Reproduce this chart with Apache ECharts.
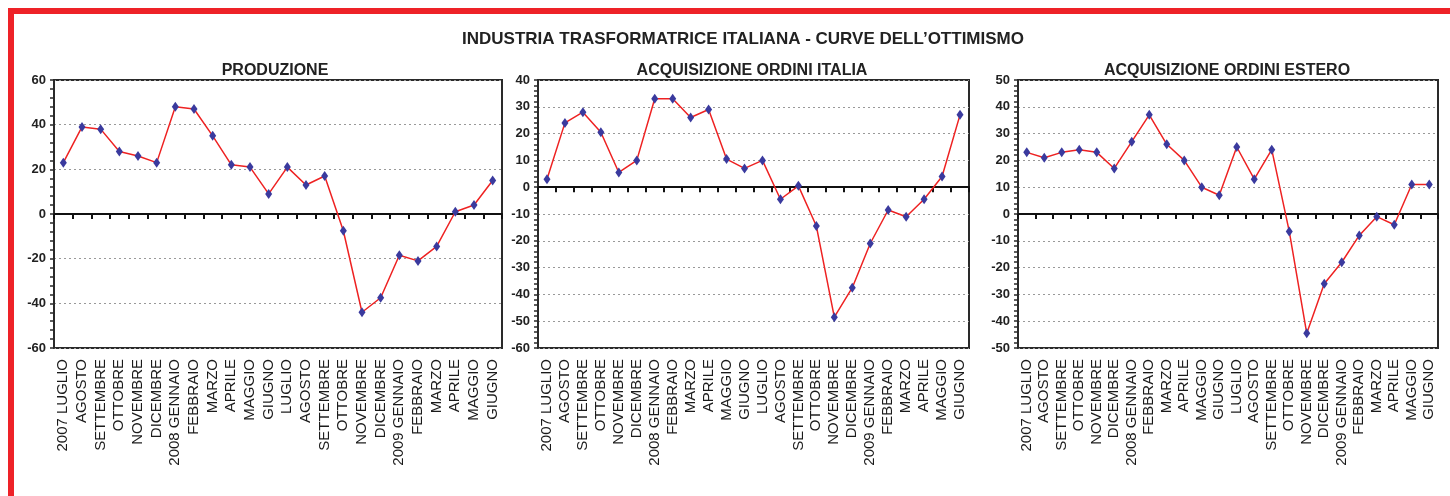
<!DOCTYPE html>
<html>
<head>
<meta charset="utf-8">
<script src="https://cdn.jsdelivr.net/npm/echarts@6/dist/echarts.min.js"></script>
<style>
  html, body { margin: 0; padding: 0; background: #fff; }
  #frame {
    position: absolute; left: 8px; top: 8px; width: 1450px; height: 500px;
    border-left: 6px solid #ee2228; border-top: 6px solid #ee2228;
  }
  #chart { position: absolute; left: 0; top: 0; width: 1450px; height: 496px; }
</style>
</head>
<body>
<div id="frame"></div>
<div id="chart"></div>
<script>
// categories (months, Jul 2007 - Jun 2009)
const months = [
  '2007 LUGLIO', 'AGOSTO', 'SETTEMBRE', 'OTTOBRE', 'NOVEMBRE', 'DICEMBRE',
  '2008 GENNAIO', 'FEBBRAIO', 'MARZO', 'APRILE', 'MAGGIO', 'GIUGNO',
  'LUGLIO', 'AGOSTO', 'SETTEMBRE', 'OTTOBRE', 'NOVEMBRE', 'DICEMBRE',
  '2009 GENNAIO', 'FEBBRAIO', 'MARZO', 'APRILE', 'MAGGIO', 'GIUGNO'
];

// series values
const produzione = [23, 39, 38, 28, 26, 23, 48, 47, 35, 22, 21, 9, 21, 13, 17, -7.5, -44, -37.5, -18.5, -21, -14.5, 1, 4, 15];
const ordiniItalia = [3, 24, 28, 20.5, 5.5, 10, 33, 33, 26, 29, 10.5, 7, 10, -4.5, 0.5, -14.5, -48.5, -37.5, -21, -8.5, -11, -4.5, 4, 27];
const ordiniEstero = [23, 21, 23, 24, 23, 17, 27, 37, 26, 20, 10, 7, 25, 13, 24, -6.5, -44.5, -26, -18, -8, -1, -4, 11, 11];

const mainTitle = 'INDUSTRIA TRASFORMATRICE ITALIANA - CURVE DELL\u2019OTTIMISMO';
const panelTitles = ['PRODUZIONE', 'ACQUISIZIONE ORDINI ITALIA', 'ACQUISIZIONE ORDINI ESTERO'];
const yMin = [-60, -60, -50];
const yMax = [60, 40, 50];
const yStep = [20, 10, 10];

const FONT = '"Liberation Sans", Arial, Helvetica, sans-serif';

const panels = [
  { left: 54, width: 448, titleX: 270 },
  { left: 538, width: 431, titleX: 747 },
  { left: 1018, width: 420, titleX: 1222 }
];
const allData = [produzione, ordiniItalia, ordiniEstero];

const chart = echarts.init(document.getElementById('chart'));

const option = {
  animation: false,
  textStyle: { fontFamily: FONT },
  title: [
    {
      text: mainTitle, left: 738, top: 26, textAlign: 'center',
      textStyle: { fontSize: 17, fontWeight: 'bold', color: '#222', fontFamily: FONT }
    }
  ].concat(panels.map((p, i) => ({
    text: panelTitles[i], left: p.titleX, top: 58, textAlign: 'center',
    textStyle: { fontSize: 16, fontWeight: 'bold', color: '#222', fontFamily: FONT }
  }))),
  grid: panels.map(p => ({
    left: p.left, top: 80, width: p.width, height: 268,
    show: true, borderColor: '#2a2a2a', borderWidth: 2, backgroundColor: 'transparent'
  })),
  xAxis: [],
  yAxis: [],
  series: []
};

panels.forEach((p, i) => {
  // bottom axis: labels only
  option.xAxis.push({
    type: 'category', gridIndex: i, data: months, position: 'bottom',
    boundaryGap: true,
    axisLine: { show: false, onZero: false },
    axisTick: { show: false },
    splitLine: { show: false },
    axisLabel: {
      interval: 0, rotate: 90, margin: 11,
      fontSize: 15, color: '#1a1a1a', fontFamily: FONT
    }
  });
  // zero line with category ticks
  option.xAxis.push({
    type: 'category', gridIndex: i, data: months, position: 'top',
    boundaryGap: true,
    axisLine: { show: true, onZero: true, lineStyle: { color: '#111', width: 2 } },
    axisTick: { show: true, interval: 0, inside: true, length: 5, lineStyle: { color: '#111', width: 2 } },
    axisLabel: { show: false, interval: 0 },
    splitLine: { show: false }
  });
  option.yAxis.push({
    type: 'value', gridIndex: i,
    min: yMin[i], max: yMax[i], interval: yStep[i],
    axisLine: { show: true, onZero: false, lineStyle: { color: '#2a2a2a', width: 2 } },
    axisTick: { show: true, length: 4, lineStyle: { color: '#2a2a2a', width: 1.5 } },
    minorTick: { show: true, splitNumber: 5, length: 4, lineStyle: { color: '#2a2a2a', width: 1.5 } },
    axisLabel: {
      margin: 8, fontSize: 13, fontWeight: 'bold', color: '#222', fontFamily: FONT
    },
    splitLine: { show: true, lineStyle: { color: '#999', type: [2, 3], width: 1 } }
  });
  option.series.push({
    type: 'line', xAxisIndex: i * 2, yAxisIndex: i,
    data: allData[i],
    symbol: 'diamond', symbolSize: [7, 10],
    lineStyle: { color: '#ee2222', width: 1.5 },
    itemStyle: { color: '#3a3a9e' },
    z: 5
  });
});

chart.setOption(option);
</script>
</body>
</html>
